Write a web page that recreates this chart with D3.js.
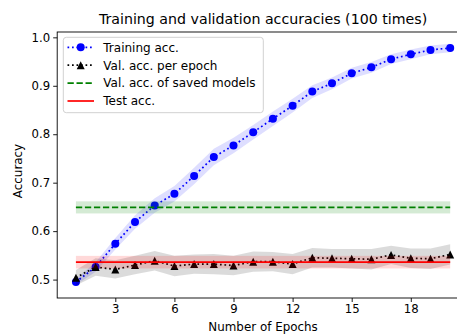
<!DOCTYPE html>
<html>
<head>
<meta charset="utf-8">
<script src="https://cdn.jsdelivr.net/npm/d3@7"></script>
<style>
  html, body { margin: 0; padding: 0; background: #fff; }
  svg { display: block; overflow: hidden; }
  text { font-family: "DejaVu Sans", sans-serif; fill: #000; }
</style>
</head>
<body>
<svg id="chart" width="457" height="336"></svg>
<script>
// Epoch numbers
const epochs = d3.range(1, 21);

// Mean training accuracy per epoch and its spread
const trainAcc = [0.495, 0.526, 0.574, 0.619, 0.653, 0.677, 0.714, 0.753, 0.777, 0.804,
                  0.832, 0.859, 0.888, 0.905, 0.926, 0.938, 0.955, 0.965, 0.974, 0.978];
const trainStd = [0.006, 0.010, 0.012, 0.014, 0.015, 0.016, 0.017, 0.017, 0.016, 0.015,
                  0.015, 0.014, 0.013, 0.012, 0.011, 0.011, 0.010, 0.010, 0.009, 0.009];

// Mean validation accuracy per epoch and its spread
const valAcc = [0.504, 0.526, 0.521, 0.530, 0.539, 0.528, 0.532, 0.532, 0.529, 0.537,
                0.537, 0.532, 0.545, 0.544, 0.543, 0.542, 0.551, 0.544, 0.543, 0.552];
const valStd = [0.016, 0.018, 0.019, 0.019, 0.020, 0.021, 0.020, 0.021, 0.020, 0.021,
                0.020, 0.021, 0.020, 0.019, 0.020, 0.021, 0.019, 0.020, 0.021, 0.021];

// Validation accuracy of the saved models and test accuracy (mean, std)
const savedVal = [0.649, 0.0125];
const testAcc = [0.536, 0.013];

// Axis ticks
const xTicks = [3, 6, 9, 12, 15, 18];
const yTicks = [0.5, 0.6, 0.7, 0.8, 0.9, 1.0];

const svg = d3.select("#chart");
const plot = { left: 57.2, right: 468.9, top: 32, bottom: 298 };

const x = d3.scaleLinear().domain([0.05, 20.95]).range([plot.left, plot.right]);
const y = d3.scaleLinear().domain([0.462, 1.011]).range([plot.bottom, plot.top]);

const lw = 1.7;
const dotted = `${lw},${lw * 1.65}`;
const dashed = `${lw * 3.7},${lw * 1.6}`;

const band = (mean, std) => d3.area()
  .x((d, i) => x(epochs[i]))
  .y0((d, i) => y(mean[i] - std[i]))
  .y1((d, i) => y(mean[i] + std[i]));
const line = (mean) => d3.line().x((d, i) => x(epochs[i])).y((d, i) => y(mean[i]));

const g = svg.append("g");

// Training accuracy
g.append("path").attr("d", band(trainAcc, trainStd)(epochs))
  .attr("fill", "#0000ff").attr("fill-opacity", 0.13);
g.append("path").attr("d", line(trainAcc)(epochs))
  .attr("fill", "none").attr("stroke", "#0000ff").attr("stroke-width", lw)
  .attr("stroke-dasharray", dotted);
g.selectAll("circle.train").data(trainAcc).join("circle")
  .attr("class", "train")
  .attr("cx", (d, i) => x(epochs[i])).attr("cy", d => y(d)).attr("r", 4)
  .attr("fill", "#0000ff");

// Validation accuracy per epoch
g.append("path").attr("d", band(valAcc, valStd)(epochs))
  .attr("fill", "#000").attr("fill-opacity", 0.14);
g.append("path").attr("d", line(valAcc)(epochs))
  .attr("fill", "none").attr("stroke", "#000").attr("stroke-width", lw)
  .attr("stroke-dasharray", dotted);
g.selectAll("path.val").data(valAcc).join("path")
  .attr("class", "val")
  .attr("d", "M0,-4L4,4L-4,4Z")
  .attr("transform", (d, i) => `translate(${x(epochs[i])},${y(d)})`)
  .attr("fill", "#000");

// Constant reference lines with their bands
function hband(stat, color, alpha, dash) {
  const x0 = x(epochs[0]), x1 = x(epochs[epochs.length - 1]);
  g.append("rect")
    .attr("x", x0).attr("width", x1 - x0)
    .attr("y", y(stat[0] + stat[1])).attr("height", y(stat[0] - stat[1]) - y(stat[0] + stat[1]))
    .attr("fill", color).attr("fill-opacity", alpha);
  g.append("line")
    .attr("x1", x0).attr("x2", x1).attr("y1", y(stat[0])).attr("y2", y(stat[0]))
    .attr("stroke", color).attr("stroke-width", lw)
    .attr("stroke-dasharray", dash || null);
}
hband(savedVal, "#008000", 0.17, dashed);
hband(testAcc, "#ff0000", 0.15, null);

// Axes frame
const frame = svg.append("g").attr("stroke", "#000").attr("stroke-width", 0.9).attr("fill", "none");
frame.append("rect").attr("x", plot.left).attr("y", plot.top)
  .attr("width", plot.right - plot.left).attr("height", plot.bottom - plot.top);

// X axis
const xAxis = svg.append("g").attr("transform", `translate(0,${plot.bottom})`)
  .call(d3.axisBottom(x).tickValues(xTicks).tickSize(4).tickPadding(3).tickFormat(d3.format("d")));
xAxis.select(".domain").remove();
xAxis.selectAll("line").attr("stroke", "#000").attr("stroke-width", 0.9);
xAxis.selectAll("text").attr("font-size", 11.7).attr("font-family", "DejaVu Sans").attr("fill", "#000");

// Y axis
const yAxis = svg.append("g").attr("transform", `translate(${plot.left},0)`)
  .call(d3.axisLeft(y).tickValues(yTicks).tickSize(4).tickPadding(3).tickFormat(d3.format(".1f")));
yAxis.select(".domain").remove();
yAxis.selectAll("line").attr("stroke", "#000").attr("stroke-width", 0.9);
yAxis.selectAll("text").attr("font-size", 11.7).attr("font-family", "DejaVu Sans").attr("fill", "#000");

// Titles
svg.append("text").attr("x", (plot.left + plot.right) / 2).attr("y", 24)
  .attr("text-anchor", "middle").attr("font-size", 14.2)
  .text("Training and validation accuracies (100 times)");
svg.append("text").attr("x", (plot.left + plot.right) / 2).attr("y", 331)
  .attr("text-anchor", "middle").attr("font-size", 11.9)
  .text("Number of Epochs");
svg.append("text").attr("transform", "translate(22,171) rotate(-90)")
  .attr("text-anchor", "middle").attr("font-size", 11.9)
  .text("Accuracy");

// Legend
const legend = svg.append("g");
legend.append("rect").attr("x", 63.3).attr("y", 37.3).attr("width", 200).attr("height", 75.4)
  .attr("rx", 3).attr("fill", "#fff").attr("fill-opacity", 0.8)
  .attr("stroke", "#ccc").attr("stroke-width", 0.9);
const items = [
  { label: "Training acc.", color: "#0000ff", dash: dotted, marker: "circle" },
  { label: "Val. acc. per epoch", color: "#000", dash: dotted, marker: "triangle" },
  { label: "Val. acc. of saved models", color: "#008000", dash: dashed, marker: null },
  { label: "Test acc.", color: "#ff0000", dash: null, marker: null }
];
items.forEach((it, i) => {
  const cy = 47.3 + i * 17.9;
  legend.append("line").attr("x1", 67.5).attr("x2", 94).attr("y1", cy).attr("y2", cy)
    .attr("stroke", it.color).attr("stroke-width", lw).attr("stroke-dasharray", it.dash);
  if (it.marker === "circle") {
    legend.append("circle").attr("cx", 80.7).attr("cy", cy).attr("r", 4).attr("fill", it.color);
  } else if (it.marker === "triangle") {
    legend.append("path").attr("d", "M0,-4L4,4L-4,4Z")
      .attr("transform", `translate(80.7,${cy})`).attr("fill", it.color);
  }
  legend.append("text").attr("x", 103.3).attr("y", cy + 4.3).attr("font-size", 12)
    .text(it.label);
});
</script>
</body>
</html>
